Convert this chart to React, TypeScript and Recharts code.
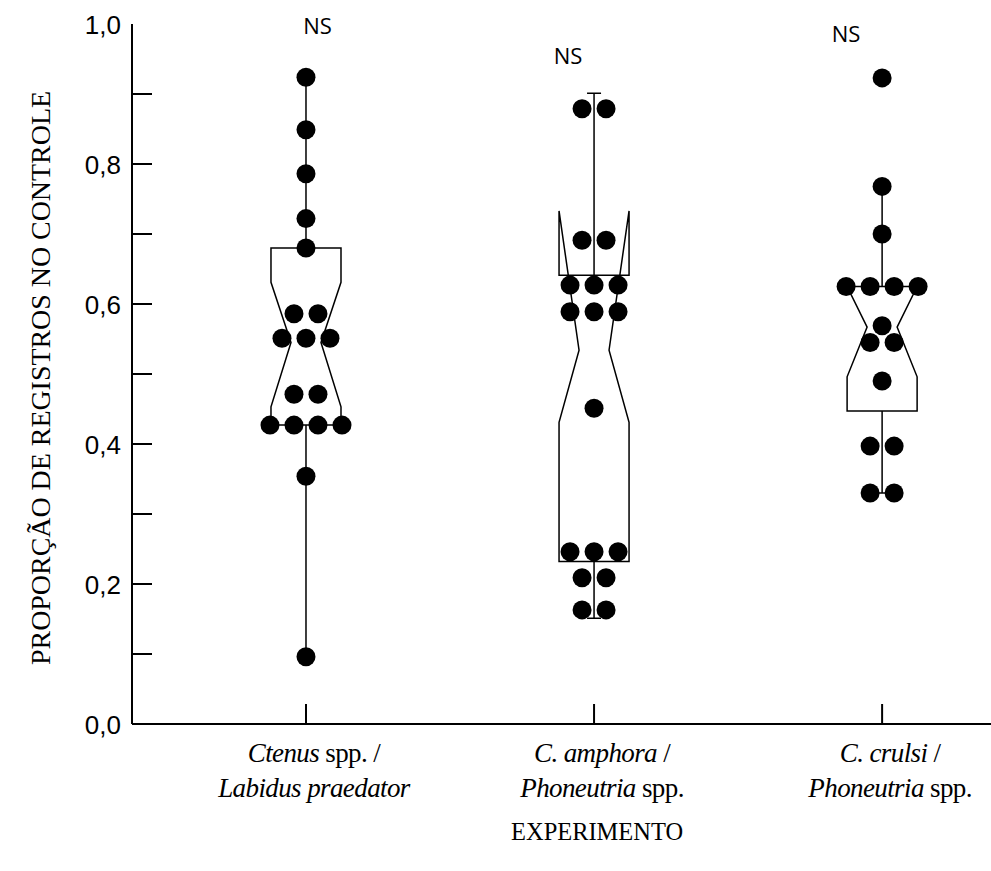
import { ComposedChart, Scatter, XAxis, YAxis, ReferenceDot } from 'recharts';

const groupPos = [1, 2, 3];
const labelLine1 = [
  [{ t: 'Ctenus', i: true }, { t: ' spp. /', i: false }],
  [{ t: 'C. amphora', i: true }, { t: ' /', i: false }],
  [{ t: 'C. crulsi', i: true }, { t: ' /', i: false }],
];
const labelLine2 = [
  [{ t: 'Labidus praedator', i: true }],
  [{ t: 'Phoneutria', i: true }, { t: ' spp.', i: false }],
  [{ t: 'Phoneutria', i: true }, { t: ' spp.', i: false }],
];

const ctenusValues = [0.924, 0.849, 0.786, 0.722, 0.68, 0.586, 0.586, 0.551, 0.551, 0.551, 0.471, 0.471, 0.427, 0.427, 0.427, 0.427, 0.354, 0.096];
const amphoraValues = [0.879, 0.879, 0.691, 0.691, 0.627, 0.627, 0.627, 0.589, 0.589, 0.589, 0.451, 0.246, 0.246, 0.246, 0.209, 0.209, 0.163, 0.163];
const crulsiValues = [0.923, 0.768, 0.7, 0.625, 0.625, 0.625, 0.625, 0.569, 0.545, 0.545, 0.49, 0.397, 0.397, 0.33, 0.33];

// notched box stats per experiment
const whiskerLow = [0.096, 0.151, 0.33];
const q1 = [0.427, 0.232, 0.447];
const notchLow = [0.453, 0.431, 0.496];
const median = [0.545, 0.534, 0.567];
const notchHigh = [0.631, 0.733, 0.625];
const q3 = [0.68, 0.641, 0.625];
const whiskerHigh = [0.924, 0.901, 0.768];

const yTicks = [0, 0.1, 0.2, 0.3, 0.4, 0.5, 0.6, 0.7, 0.8, 0.9, 1.0];
const nsLabels = [
  { x: 1.04, y: 0.999 },
  { x: 1.91, y: 0.956 },
  { x: 2.875, y: 0.987 },
];

const X_MIN = 0.396;
const X_MAX = 3.378;
const UNIT = 288; // px per x unit
const BOX_HALF = 35 / UNIT;
const NOTCH_HALF = 15 / UNIT;
const CAP_HALF = 7 / UNIT;
const DOT_STEP = 24 / UNIT;

const dotPoints = (values: number[], pos: number) => {
  const counts = new Map<number, number>();
  values.forEach((v) => counts.set(v, (counts.get(v) ?? 0) + 1));
  const seen = new Map<number, number>();
  return values.map((v) => {
    const n = counts.get(v)!;
    const i = seen.get(v) ?? 0;
    seen.set(v, i + 1);
    return { x: pos + (i - (n - 1) / 2) * DOT_STEP, y: v };
  });
};

const boxOutline = (g: number) => {
  const p = groupPos[g];
  const b = BOX_HALF, n = NOTCH_HALF, c = CAP_HALF;
  return [
    { x: p - c, y: whiskerHigh[g] }, { x: p + c, y: whiskerHigh[g] }, { x: p, y: whiskerHigh[g] }, { x: p, y: q3[g] },
    { x: p - b, y: q3[g] }, { x: p - b, y: notchHigh[g] }, { x: p - n, y: median[g] }, { x: p - b, y: notchLow[g] }, { x: p - b, y: q1[g] },
    { x: p, y: q1[g] }, { x: p, y: whiskerLow[g] }, { x: p - c, y: whiskerLow[g] }, { x: p + c, y: whiskerLow[g] }, { x: p, y: whiskerLow[g] }, { x: p, y: q1[g] },
    { x: p + b, y: q1[g] }, { x: p + b, y: notchLow[g] }, { x: p + n, y: median[g] }, { x: p + b, y: notchHigh[g] }, { x: p + b, y: q3[g] }, { x: p, y: q3[g] },
  ];
};

const dots = [
  ...dotPoints(ctenusValues, groupPos[0]),
  ...dotPoints(amphoraValues, groupPos[1]),
  ...dotPoints(crulsiValues, groupPos[2]),
];

const serif = '"Liberation Serif", "Times New Roman", serif';
const sans = '"Liberation Sans", Arial, sans-serif';

const YTick = (props: any) => {
  const { x, y, payload } = props;
  const v = payload.value as number;
  const major = Math.round(v * 10) % 2 === 0;
  return (
    <g>
      {v > 0 && v < 1 && <line x1={x} x2={x + 20} y1={y} y2={y} stroke="#000" strokeWidth={2} />}
      {major && (
        <text x={x - 11} y={y + 1} textAnchor="end" dominantBaseline="central" fontFamily={sans} fontSize={26} fill="#000">
          {v.toFixed(1).replace('.', ',')}
        </text>
      )}
    </g>
  );
};

const Parts = ({ parts }: { parts: { t: string; i: boolean }[] }) => (
  <>
    {parts.map((p, k) => (
      <tspan key={k} fontStyle={p.i ? 'italic' : 'normal'}>{p.t}</tspan>
    ))}
  </>
);

const XTick = (props: any) => {
  const { x, y, payload } = props;
  const g = groupPos.indexOf(payload.value);
  return (
    <g>
      <line x1={x} x2={x} y1={y} y2={y - 20} stroke="#000" strokeWidth={2} />
      <text x={x + 8} y={y + 38} textAnchor="middle" fontFamily={serif} fontSize={27} fill="#000" letterSpacing={-0.6}>
        <Parts parts={labelLine1[g]} />
      </text>
      <text x={x + 8} y={y + 73} textAnchor="middle" fontFamily={serif} fontSize={27} fill="#000" letterSpacing={-0.6}>
        <Parts parts={labelLine2[g]} />
      </text>
    </g>
  );
};

const YTitle = (props: any) => {
  const vb = props.viewBox ?? { x: 0, y: 24, width: 132, height: 700 };
  const cx = 40;
  const cy = vb.y + vb.height / 2 + 4;
  return (
    <text
      x={cx}
      y={cy}
      transform={`rotate(-90 ${cx} ${cy})`}
      textAnchor="middle"
      dominantBaseline="central"
      fontFamily={serif}
      fontSize={28}
      textLength={574}
      lengthAdjust="spacingAndGlyphs"
      fill="#000"
    >
      PROPORÇÃO DE REGISTROS NO CONTROLE
    </text>
  );
};

const XTitle = (props: any) => {
  const vb = props.viewBox ?? { x: 132, y: 724, width: 859, height: 147 };
  const cx = vb.x + (vb.width * (groupPos[1] - X_MIN)) / (X_MAX - X_MIN) + 3;
  return (
    <text
      x={cx}
      y={vb.y + 116}
      textAnchor="middle"
      fontFamily={serif}
      fontSize={26}
      textLength={172}
      lengthAdjust="spacingAndGlyphs"
      fill="#000"
    >
      EXPERIMENTO
    </text>
  );
};

const Dot = (props: any) => <circle cx={props.cx} cy={props.cy} r={9.5} fill="#000" />;
const NoMarker = () => <g />;

export default function App() {
  return (
    <div style={{ position: 'absolute', left: 0, top: 0, background: '#fff' }}>
      <ComposedChart width={991} height={871} margin={{ top: 24, right: 0, bottom: 0, left: 0 }}>
        <XAxis
          type="number"
          dataKey="x"
          domain={[X_MIN, X_MAX]}
          ticks={groupPos}
          tick={<XTick />}
          tickLine={false}
          tickSize={0}
          tickMargin={0}
          height={147}
          axisLine={{ stroke: '#000', strokeWidth: 2 }}
          label={<XTitle />}
        />
        <YAxis
          type="number"
          dataKey="y"
          domain={[0, 1]}
          ticks={yTicks}
          tick={<YTick />}
          tickLine={false}
          tickSize={0}
          tickMargin={0}
          width={132}
          axisLine={{ stroke: '#000', strokeWidth: 2 }}
          label={<YTitle />}
        />
        {groupPos.map((_, g) => (
          <Scatter
            key={g}
            data={boxOutline(g)}
            line={{ stroke: '#000', strokeWidth: 1.5 }}
            lineType="joint"
            shape={<NoMarker />}
            isAnimationActive={false}
          />
        ))}
        <Scatter data={dots} shape={<Dot />} isAnimationActive={false} />
        {nsLabels.map((n, k) => (
          <ReferenceDot
            key={k}
            x={n.x}
            y={n.y}
            r={0}
            shape={(p: any) => (
              <text x={p.cx} y={p.cy} textAnchor="middle" dominantBaseline="central" fontFamily='"Open Sans", sans-serif' fontSize={22} fill="#000">
                NS
              </text>
            )}
          />
        ))}
      </ComposedChart>
    </div>
  );
}
